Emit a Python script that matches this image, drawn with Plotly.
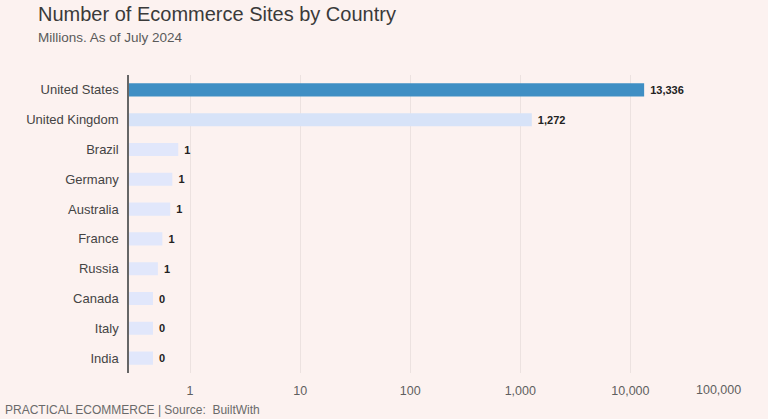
import plotly.graph_objects as go

countries = [
    "United States",
    "United Kingdom",
    "Brazil",
    "Germany",
    "Australia",
    "France",
    "Russia",
    "Canada",
    "Italy",
    "India",
]
sites = [13336, 1272, 0.78, 0.69, 0.66, 0.56, 0.51, 0.46, 0.46, 0.46]
tick_vals = [1, 10, 100, 1000, 10000, 100000]
tick_text = ["1", "10", "100", "1,000", "10,000", "100,000"]

BG = "#fcf2f0"
FONT = "Liberation Sans, Arial, sans-serif"
W, H = 768, 419
L, R, T, B = 129, 27, 75, 46


def bar_color(i):
    if i == 0:
        return "#3f8fc4"
    if i == 1:
        return "#d7e3f8"
    return "#e1e7fb"


def px_to_paper(x, y):
    # pixel position on the page -> paper coords of the plot area
    return (x - L) / (W - L - R), (H - B - y) / (H - T - B)


fig = go.Figure(
    go.Bar(
        x=sites,
        y=countries,
        orientation="h",
        marker=dict(color=[bar_color(i) for i in range(len(sites))], line=dict(width=0)),
        texttemplate=" %{x:,.0f}",
        textposition="outside",
        textfont=dict(size=11, color="#222222", family=FONT, weight="bold"),
        cliponaxis=False,
        showlegend=False,
    )
)

sub_x, sub_y = px_to_paper(36, 38)
src_x, src_y = px_to_paper(3, 410)
_, tick_y = px_to_paper(0, 390)

# the last tick label sits flush with the right edge of the plot, as in the source
shown_ticks = tick_text[:-1] + [""]

fig.update_layout(
    width=W,
    height=H,
    paper_bgcolor=BG,
    plot_bgcolor=BG,
    font=dict(family=FONT, color="#555555"),
    margin=dict(l=L, r=R, t=T, b=B),
    bargap=0.56,
    title=dict(
        text="Number of Ecommerce Sites by Country",
        x=38 / W,
        xanchor="left",
        y=1 - 14 / H,
        yanchor="middle",
        font=dict(size=20, color="#3a3a3a", family=FONT),
    ),
    annotations=[
        dict(
            text="Millions. As of July 2024",
            xref="paper",
            yref="paper",
            x=sub_x,
            y=sub_y,
            xanchor="left",
            yanchor="middle",
            showarrow=False,
            font=dict(size=13.5, color="#5a5a5a", family=FONT),
        ),
        dict(
            text="PRACTICAL ECOMMERCE | Source:  BuiltWith",
            xref="paper",
            yref="paper",
            x=src_x,
            y=src_y,
            xanchor="left",
            yanchor="middle",
            showarrow=False,
            font=dict(size=12, color="#6a6a6a", family=FONT),
        ),
        dict(
            text=tick_text[-1],
            xref="paper",
            yref="paper",
            x=1 + 2 / (W - L - R),
            y=tick_y,
            xanchor="right",
            yanchor="middle",
            showarrow=False,
            font=dict(size=12.5, color="#5f5f5f", family=FONT),
        ),
    ],
)

fig.update_xaxes(
    type="log",
    range=[-0.555, 5.005],
    tickvals=tick_vals,
    ticktext=shown_ticks,
    showgrid=True,
    gridcolor="#ece2e0",
    gridwidth=1,
    zeroline=False,
    showline=False,
    ticks="",
    ticklabelstandoff=8,
    tickfont=dict(size=12.5, color="#5f5f5f"),
)
fig.update_yaxes(
    autorange="reversed",
    showline=True,
    linecolor="#666666",
    linewidth=1.5,
    showgrid=False,
    ticks="",
    ticklabelstandoff=6,
    tickfont=dict(size=13, color="#444444"),
)

fig.write_html(
    "out.html",
    config={"displayModeBar": False},
    post_script="document.body.style.margin='0';document.body.style.overflow='hidden';",
)
